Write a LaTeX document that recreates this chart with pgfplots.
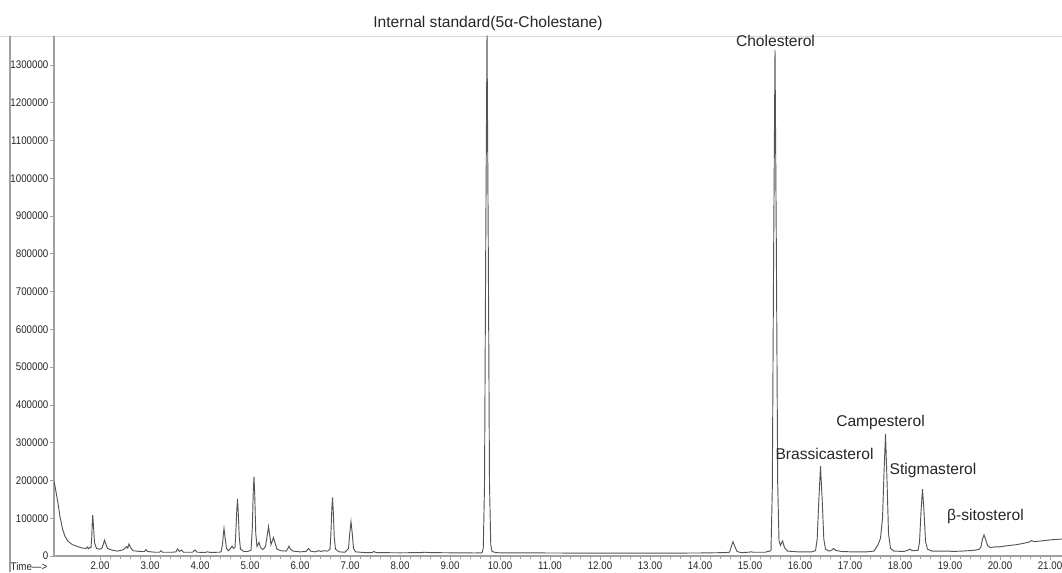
\documentclass[border=0pt]{standalone}
\usepackage{pgfplots}
\pgfplotsset{compat=1.18}
\usepackage{fontspec}
\setmainfont{Liberation Sans}
% narrow face for the tick numbers
\newfontfamily\tickfont[FakeStretch=0.88]{Liberation Sans}

\definecolor{trace}{RGB}{85,85,85}
\definecolor{axisgray}{RGB}{160,160,160}

\begin{document}
\begin{tikzpicture}
% page frame: 1062 x 572 px at 0.75 pt per px
\useasboundingbox (0,0) rectangle (796.5pt,429pt);
% outer frame lines of the report
\draw[axisgray!40, line width=0.5pt] (0,402pt) -- (796.5pt,402pt);
\draw[axisgray, line width=1.3pt] (7.5pt,0) -- (7.5pt,402pt);

\begin{axis}[
  at={(40.5pt,12pt)}, anchor=south west,
  scale only axis, width=756pt, height=390pt,
  xmin=1.08, xmax=21.24,
  ymin=0, ymax=1376800,
  axis x line*=bottom, axis y line*=left,
  axis line style={-, draw=axisgray, line width=1.2pt},
  clip mode=individual,
  tick align=outside,
  major tick length=3pt, minor tick length=2pt,
  every tick/.style={axisgray, line width=0.6pt},
  xtick={2,...,21}, minor x tick num=4,
  ytick={0,100000,...,1300000},
  scaled y ticks=false, scaled x ticks=false,
  /pgf/number format/assume math mode=true,
  tick label style={font=\tickfont\fontsize{8.3}{9}\selectfont, text=black!85, inner sep=1pt},
  xticklabel style={/pgf/number format/fixed, /pgf/number format/fixed zerofill, /pgf/number format/precision=2},
  yticklabel style={/pgf/number format/fixed, /pgf/number format/precision=0, /pgf/number format/1000 sep={}},
]
\addplot[trace, line width=0.7pt] coordinates {
 (1.08,197000) (1.10,185000) (1.12,170000) (1.16,140000) (1.20,104000)
 (1.25,72000) (1.30,52000) (1.36,39000) (1.45,30000) (1.55,25000)
 (1.65,21000) (1.72,20000) (1.75,24000) (1.77,19000) (1.80,23000)
 (1.82,22000) (1.835,50000) (1.845,90000) (1.855,108000) (1.87,78000)
 (1.89,35000) (1.93,20000) (2.00,18000) (2.04,21000) (2.07,33000)
 (2.09,42000) (2.11,34000) (2.15,20000) (2.25,15000) (2.35,13000)
 (2.45,16000) (2.49,19000) (2.53,25000) (2.555,21000) (2.58,32000)
 (2.61,22000) (2.66,14000) (2.80,12000) (2.89,12000) (2.92,17000)
 (2.95,12000) (3.10,10000) (3.19,10000) (3.22,14000) (3.25,10000)
 (3.45,10000) (3.52,11000) (3.55,19000) (3.59,12000) (3.63,16000)
 (3.67,10000) (3.85,10000) (3.90,16000) (3.94,10000) (4.10,9500)
 (4.15,11000) (4.20,9500) (4.38,10000) (4.42,11000) (4.45,30000)
 (4.465,55000) (4.48,73000) (4.50,50000) (4.53,20000) (4.57,14000)
 (4.61,20000) (4.64,26000) (4.67,20000) (4.70,22000) (4.715,60000)
 (4.735,120000) (4.75,151000) (4.765,115000) (4.785,50000) (4.81,18000)
 (4.88,12000) (4.95,12000) (5.02,15000) (5.045,70000) (5.065,170000)
 (5.08,210000) (5.095,160000) (5.115,60000) (5.14,25000) (5.18,36000)
 (5.21,22000) (5.26,17000) (5.31,25000) (5.345,55000) (5.37,78000)
 (5.395,55000) (5.42,30000) (5.47,49000) (5.50,35000) (5.54,18000)
 (5.62,14000) (5.72,13000) (5.75,18000) (5.78,26000) (5.81,18000)
 (5.86,13000) (6.00,11000) (6.12,12000) (6.17,20000) (6.21,13000)
 (6.30,11000) (6.37,14000) (6.42,12000) (6.47,14000) (6.55,13000)
 (6.60,18000) (6.615,50000) (6.635,120000) (6.65,155000) (6.665,120000)
 (6.685,50000) (6.71,18000) (6.78,11000) (6.90,10000) (6.97,20000)
 (6.995,60000) (7.02,91000) (7.045,60000) (7.07,20000) (7.11,11000)
 (7.30,9000) (7.44,9000) (7.48,12000) (7.52,9000) (8.00,8500)
 (8.40,9000) (8.50,10000) (8.60,9000) (9.00,8500) (9.50,8000)
 (9.64,8500) (9.665,20000) (9.69,186000) (9.715,830000) (9.74,1385000)
 (9.765,830000) (9.79,190000) (9.815,30000) (9.84,12000) (9.92,9000)
 (10.00,8500) (11.00,8000) (12.00,7500) (13.00,7500) (14.00,8000)
 (14.50,9000) (14.59,10000) (14.62,22000) (14.66,38000) (14.70,24000)
 (14.74,12000) (14.82,9000) (14.97,10000) (15.02,11000) (15.07,10000)
 (15.30,10000) (15.42,14000) (15.446,180000) (15.473,810000) (15.50,1340000)
 (15.527,810000) (15.554,190000) (15.58,40000) (15.61,28000) (15.65,40000)
 (15.69,22000) (15.75,13000) (15.95,11000) (16.23,11000) (16.31,14000)
 (16.344,45000) (16.377,150000) (16.41,238000) (16.443,150000) (16.476,45000)
 (16.51,18000) (16.58,13000) (16.64,16000) (16.67,20000) (16.71,15000)
 (16.83,12000) (17.03,11000) (17.33,11000) (17.48,13000) (17.56,30000)
 (17.61,47000) (17.65,100000) (17.68,220000) (17.71,323000) (17.74,200000)
 (17.77,60000) (17.81,20000) (17.88,13000) (18.08,12000) (18.15,15000)
 (18.20,18000) (18.24,14000) (18.36,15000) (18.39,36000) (18.42,118000)
 (18.45,177000) (18.48,118000) (18.51,38000) (18.55,18000) (18.64,13000)
 (18.84,13000) (19.00,13000) (19.04,12000) (19.24,13000) (19.48,15000)
 (19.59,18000) (19.62,25000) (19.65,45000) (19.68,56000) (19.71,45000)
 (19.75,28000) (19.81,22000) (19.88,24000) (19.98,24000) (20.13,27000)
 (20.33,30000) (20.52,35000) (20.58,37000) (20.63,41000) (20.68,38000)
 (20.83,40000) (21.03,43000) (21.24,45000)
};

% peak names
\begin{scope}[every node/.style={font=\fontsize{11.7}{14}\selectfont, anchor=base, inner sep=0pt, text=black!85}]
\node at (axis cs:9.76,1400600) {Internal standard(5α-Cholestane)};
\node at (axis cs:15.51,1349000) {Cholesterol};
\node at (axis cs:16.49,254200) {Brassicasterol};
\node at (axis cs:17.61,342300) {Campesterol};
\node at (axis cs:18.66,217100) {Stigmasterol};
\node at (axis cs:19.71,92700) {β-sitosterol};
\end{scope}
\end{axis}

\node[font=\tickfont\fontsize{8.3}{9}\selectfont, text=black!85, anchor=west, inner sep=0pt] at (7.8pt,3.8pt) {Time—>};
\end{tikzpicture}
\end{document}
